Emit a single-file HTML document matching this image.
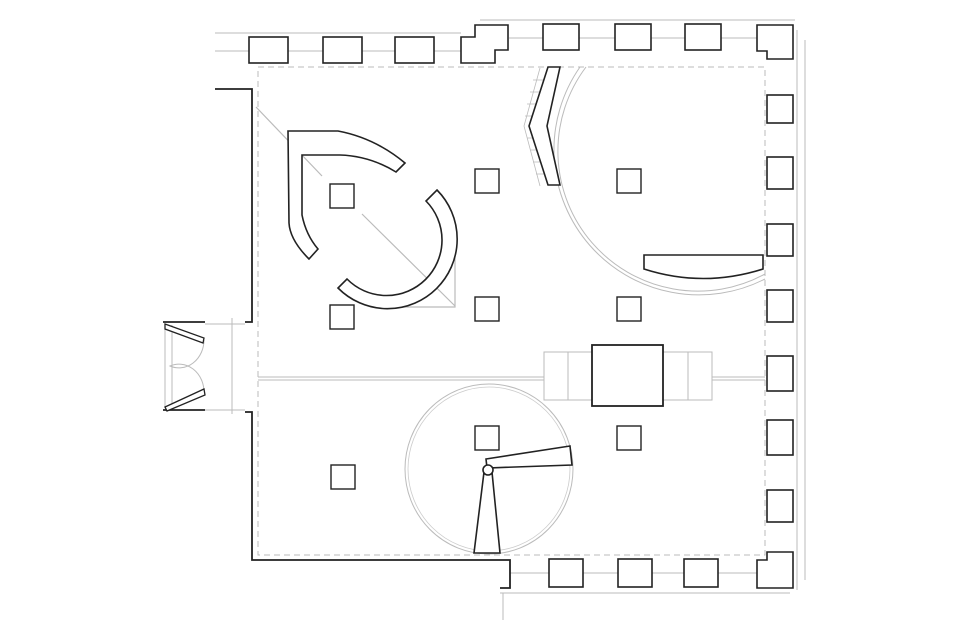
<!DOCTYPE html>
<html><head><meta charset="utf-8"><style>html,body{margin:0;padding:0;background:#fff}svg{display:block}</style></head>
<body>
<svg width="960" height="639" viewBox="0 0 960 639" xmlns="http://www.w3.org/2000/svg" fill="none" stroke-linejoin="miter">
<!-- exterior grey wall lines -->
<g stroke="#bbb" stroke-width="1">
<line x1="215" y1="33" x2="461" y2="33"/><line x1="215" y1="51" x2="461" y2="51"/>
<line x1="480" y1="20" x2="795" y2="20"/><line x1="509" y1="38" x2="757" y2="38"/>
<line x1="797" y1="30" x2="797" y2="590"/><line x1="805" y1="40" x2="805" y2="580"/>
<line x1="510" y1="573" x2="757" y2="573"/><line x1="500" y1="593" x2="790" y2="593"/>
<line x1="503" y1="593" x2="503" y2="620"/>
</g>
<!-- dashed boundary -->
<rect x="258" y="67" width="507" height="488" stroke="#bbb" stroke-width="1" stroke-dasharray="6,4"/>
<!-- piers -->
<g stroke="#222" stroke-width="1.6" fill="#fff">
<rect x="249" y="37" width="39" height="26"/><rect x="323" y="37" width="39" height="26"/><rect x="395" y="37" width="39" height="26"/>
<polygon points="461,37 475,37 475,25 508,25 508,50 495,50 495,63 461,63"/>
<rect x="543" y="24" width="36" height="26"/><rect x="615" y="24" width="36" height="26"/><rect x="685" y="24" width="36" height="26"/>
<polygon points="757,25 793,25 793,59 767,59 767,51 757,51"/>
<rect x="767" y="95" width="26" height="28"/><rect x="767" y="157" width="26" height="32"/><rect x="767" y="224" width="26" height="32"/>
<rect x="767" y="290" width="26" height="32"/><rect x="767" y="356" width="26" height="35"/><rect x="767" y="420" width="26" height="35"/>
<rect x="767" y="490" width="26" height="32"/>
<rect x="549" y="559" width="34" height="28"/><rect x="618" y="559" width="34" height="28"/><rect x="684" y="559" width="34" height="28"/>
<polygon points="757,560 767,560 767,552 793,552 793,588 757,588"/>
</g>
<!-- walls -->
<g stroke="#222" stroke-width="1.8">
<polyline points="215,89 252,89 252,322 245,322"/>
<polyline points="163,322 205,322"/>
<polyline points="245,412 252,412 252,560 510,560 510,588 500,588"/>
<polyline points="163,410 205,410"/>
</g>
<g stroke="#bbb" stroke-width="1">
<line x1="165" y1="325" x2="165" y2="408"/><line x1="172" y1="325" x2="172" y2="408"/>
<line x1="232" y1="318" x2="232" y2="414"/><line x1="205" y1="324" x2="245" y2="324"/><line x1="205" y1="410" x2="245" y2="410"/>
<path d="M204,340 A25,28 0 0 1 170,366 A25,28 0 0 1 204,392"/>
</g>
<g stroke="#222" stroke-width="1.3" fill="#fff">
<polygon points="165,324 204,338 203,343 165,329"/>
<polygon points="165,407 204,389 205,395 167,411"/>
</g>
<!-- horizontal divider -->
<g stroke="#bbb" stroke-width="1">
<line x1="258" y1="377" x2="544" y2="377"/><line x1="258" y1="380" x2="544" y2="380"/>
<line x1="712" y1="377" x2="765" y2="377"/><line x1="712" y1="380" x2="765" y2="380"/>
<rect x="544" y="352" width="48" height="48"/><rect x="663" y="352" width="49" height="48"/>
<line x1="568" y1="352" x2="568" y2="400"/><line x1="688" y1="352" x2="688" y2="400"/>
</g>
<rect x="592" y="345" width="71" height="61" stroke="#222" stroke-width="1.8" fill="#fff"/>
<!-- columns -->
<g stroke="#222" stroke-width="1.4" fill="#fff">
<rect x="475" y="169" width="24" height="24"/><rect x="617" y="169" width="24" height="24"/>
<rect x="330" y="184" width="24" height="24"/><rect x="475" y="297" width="24" height="24"/>
<rect x="617" y="297" width="24" height="24"/><rect x="330" y="305" width="24" height="24"/>
<rect x="475" y="426" width="24" height="24"/><rect x="617" y="426" width="24" height="24"/>
<rect x="331" y="465" width="24" height="24"/>
</g>
<!-- grey diagonals -->
<g stroke="#bbb" stroke-width="1.2">
<line x1="256" y1="107" x2="322" y2="176"/><line x1="362" y1="214" x2="455" y2="306"/>
<polyline points="455,240 455,307 380,307"/>
<line x1="289" y1="141" x2="370" y2="141"/>
</g>
<!-- J shape -->
<path d="M288,131 L338,131 Q375,138 405,163 L396,172 Q370,156 340,155 L302,155 L302,215 Q306,235 318,249 L309,259 Q290,240 289,223 Z" stroke="#222" stroke-width="1.6" fill="#fff"/>
<!-- C shape -->
<path d="M437,190 A68,68 0 1 1 338,288 L347,279 A54,54 0 1 0 426,201 Z" stroke="#222" stroke-width="1.6" fill="#fff"/>
<!-- big arc top right -->
<g stroke="#bbb" stroke-width="1">
<path d="M580,67 A145,145 0 0 0 765,279"/>
<path d="M586,67 A140,140 0 0 0 765,274"/>
</g>
<!-- chevron -->
<g stroke="#bbb" stroke-width="0.8">
<path d="M540,68 L524,126 L540,186 M533,80 L548,80 M530,92 L546,92 M527,104 L544,104 M525,116 L543,116 M527,138 L544,138 M530,150 L546,150 M533,162 L548,162 M536,174 L550,174"/>
</g>
<polygon points="548,67 560,67 547,126 560,185 548,185 529,126" stroke="#222" stroke-width="1.6" fill="#fff"/>
<!-- bench -->
<path d="M644,255 L763,255 L763,269 Q703,288 644,269 Z" stroke="#222" stroke-width="1.6" fill="#fff"/>
<!-- circle bottom -->
<ellipse cx="489" cy="469" rx="84" ry="85" stroke="#bbb" stroke-width="1"/>
<ellipse cx="489" cy="469" rx="81" ry="82" stroke="#ccc" stroke-width="0.8"/>
<g stroke="#222" stroke-width="1.6" fill="#fff">
<polygon points="486,459 570,446 572,465 487,468"/>
<polygon points="484,472 492,472 500,553 474,553"/>
<circle cx="488" cy="470" r="5"/>
</g>
</svg>
</body></html>
